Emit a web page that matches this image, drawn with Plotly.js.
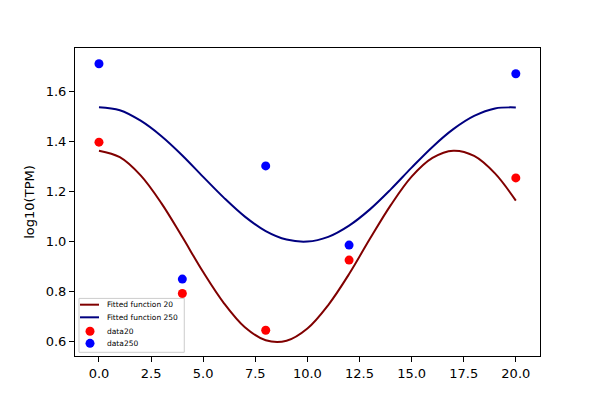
<!DOCTYPE html>
<html>
<head>
<meta charset="utf-8">
<script src="https://cdn.plot.ly/plotly-3.0.1.min.js"></script>
<style>
  body { margin: 0; background: #fff; }
  #plot { width: 600px; height: 400px; }
</style>
</head>
<body>
<div id="plot"></div>
<script>
// sampling times
var sampleX = [0, 4, 8, 12, 20];
var data20 = [1.397, 0.791, 0.644, 0.925, 1.254];
var data250 = [1.711, 0.849, 1.302, 0.985, 1.671];

// fitted curves
var fitX = [0, 1, 2, 3, 4, 5, 6, 7, 8, 9, 10, 11, 12, 13, 14, 15, 16, 17, 18, 19, 20];
var fit20 = [1.363, 1.337, 1.264, 1.152, 1.017, 0.877, 0.752, 0.656, 0.604, 0.602, 0.651,
             0.745, 0.869, 1.010, 1.145, 1.259, 1.334, 1.363, 1.342, 1.272, 1.163];
var fit250 = [1.537, 1.525, 1.483, 1.421, 1.344, 1.258, 1.174, 1.099, 1.041, 1.007, 0.999,
              1.018, 1.063, 1.128, 1.208, 1.295, 1.378, 1.449, 1.502, 1.532, 1.536];

var legendNames = ['Fitted function 20', 'Fitted function 250', 'data20', 'data250'];

var font = 'DejaVu Sans, sans-serif';

var traces = [
  {x: fitX, y: fit20, name: legendNames[0], mode: 'lines',
   line: {color: '#800000', width: 2, shape: 'spline'}},
  {x: fitX, y: fit250, name: legendNames[1], mode: 'lines',
   line: {color: '#000080', width: 2, shape: 'spline'}},
  {x: sampleX, y: data20, name: legendNames[2], mode: 'markers',
   marker: {color: '#ff0000', size: 9}},
  {x: sampleX, y: data250, name: legendNames[3], mode: 'markers',
   marker: {color: '#0000ff', size: 9}}
];
traces.forEach(function (t) { t.showlegend = false; t.hoverinfo = 'skip'; });

// hand-made legend box in the lower left, matplotlib style
var rowY = [0.1666, 0.1256, 0.0802, 0.0412];
var shapes = [
  {type: 'rect', xref: 'paper', yref: 'paper', x0: 0.0086, x1: 0.235, y0: 0.012, y1: 0.187,
   line: {color: '#cccccc', width: 1}, fillcolor: 'rgba(255,255,255,0.8)'},
  {type: 'line', xref: 'paper', yref: 'paper', x0: 0.0108, x1: 0.0516, y0: rowY[0], y1: rowY[0],
   line: {color: '#800000', width: 2}},
  {type: 'line', xref: 'paper', yref: 'paper', x0: 0.0108, x1: 0.0516, y0: rowY[1], y1: rowY[1],
   line: {color: '#000080', width: 2}}
];
[['#ff0000', rowY[2]], ['#0000ff', rowY[3]]].forEach(function (d) {
  shapes.push({type: 'circle', xref: 'paper', yref: 'paper',
    xsizemode: 'pixel', ysizemode: 'pixel', xanchor: 0.0323, yanchor: d[1],
    x0: -4.5, x1: 4.5, y0: -4.5, y1: 4.5,
    line: {width: 0}, fillcolor: d[0]});
});
var annotations = legendNames.map(function (n, i) {
  return {text: n, xref: 'paper', yref: 'paper', x: 0.0645, y: rowY[i],
    xanchor: 'left', yanchor: 'middle', showarrow: false,
    font: {family: font, size: 7.5, color: '#000'}};
});

var axisStyle = {
  showline: true, mirror: true, linecolor: '#000', linewidth: 1,
  ticks: 'outside', ticklen: 5, tickcolor: '#000', tickwidth: 1,
  showgrid: false, zeroline: false, tickformat: '.1f',
  tickfont: {family: font, size: 13, color: '#000'}
};

var layout = {
  width: 600, height: 400,
  margin: {l: 75, r: 60, t: 48, b: 44},
  paper_bgcolor: '#fff', plot_bgcolor: '#fff',
  font: {family: font, color: '#000'},
  xaxis: Object.assign({}, axisStyle, {range: [-1.15, 21.16], tick0: 0, dtick: 2.5}),
  yaxis: Object.assign({}, axisStyle, {range: [0.541, 1.774], tick0: 0.6, dtick: 0.2,
    title: {text: 'log10(TPM)', font: {family: font, size: 13, color: '#000'}, standoff: 8}}),
  shapes: shapes,
  annotations: annotations
};

Plotly.newPlot('plot', traces, layout, {staticPlot: true});
</script>
</body>
</html>
